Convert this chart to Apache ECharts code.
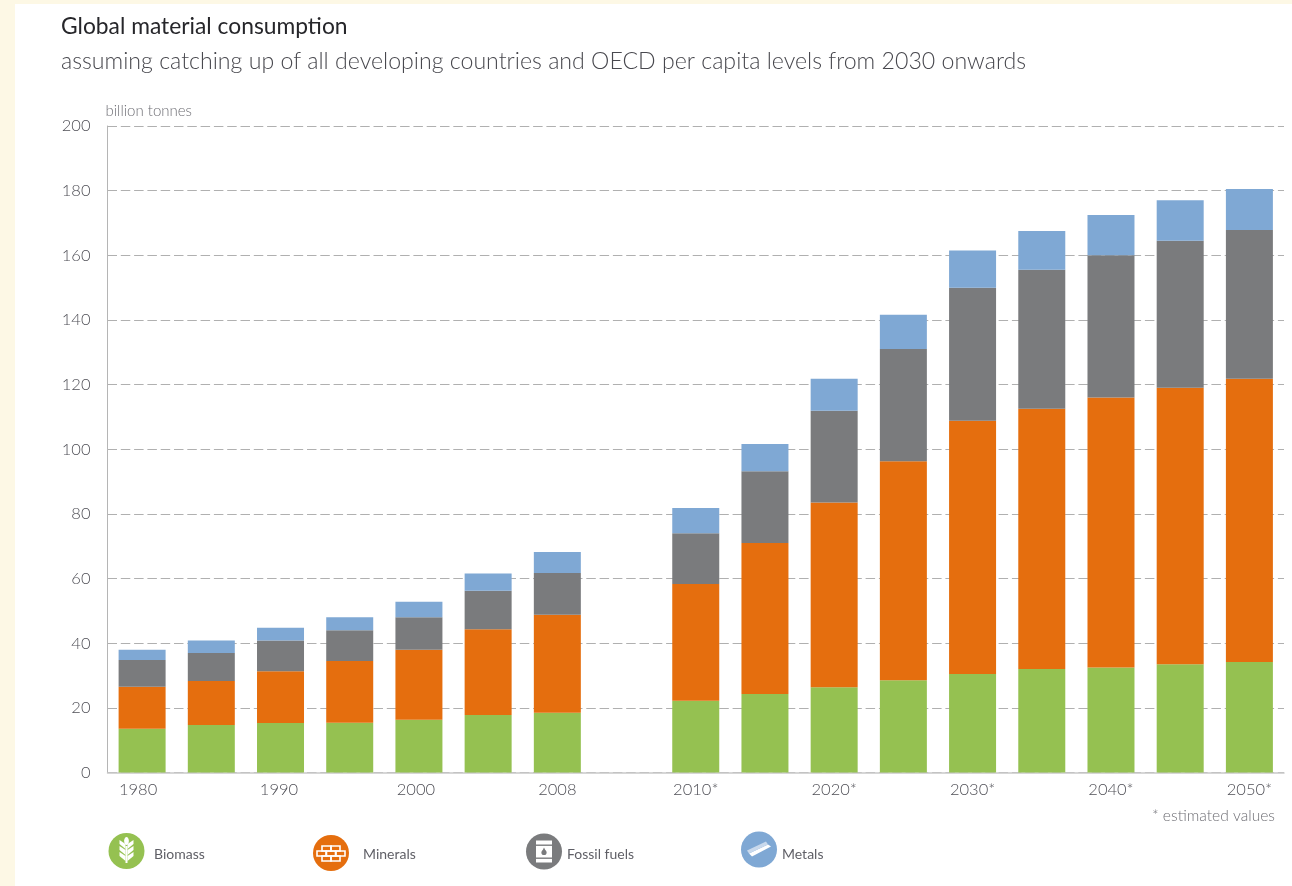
<!DOCTYPE html>
<html>
<head>
<meta charset="utf-8">
<style>
  html, body { margin: 0; padding: 0; background: #fdf8e5; overflow: hidden; }
  #panel { position: absolute; left: 15px; top: 4px; right: 0; bottom: 0; background: #fff; }
  #chart { position: absolute; left: 0; top: 0; width: 1292px; height: 886px; }
</style>
<script src="https://cdn.jsdelivr.net/npm/echarts@6/dist/echarts.min.js"></script>
</head>
<body>
<div id="panel"></div>
<div id="chart"></div>
<script>
// Reporting years; the empty slot separates observed values from estimates.
const years = ['1980','1985','1990','1995','2000','2005','2008','',
  '2010*','2015*','2020*','2025*','2030*','2035*','2040*','2045*','2050*'];
const labelledYears = ['1980','1990','2000','2008','2010*','2020*','2030*','2040*','2050*'];

// Consumption per material, billion tonnes.
const biomass  = [13.5,14.7,15.3,15.4,16.3,17.8,18.5,null,22.2,24.3,26.4,28.5,30.5,32.0,32.5,33.5,34.2];
const minerals = [13.0,13.6,16.0,19.1,21.7,26.5,30.3,null,36.1,46.7,57.1,67.8,78.3,80.5,83.5,85.5,87.6];
const fossil   = [ 8.3, 8.7, 9.5, 9.5,10.0,11.9,12.9,null,15.7,22.2,28.4,34.7,41.2,43.0,44.0,45.5,46.0];
const metals   = [ 3.2, 3.8, 4.0, 4.0, 4.8, 5.4, 6.5,null, 7.8, 8.4, 9.9,10.6,11.5,12.0,12.5,12.5,12.7];

const FONT = 'Lato, "Noto Sans", sans-serif';
const COLORS = { Biomass: '#95c151', Minerals: '#e56e0e', 'Fossil fuels': '#7a7b7d', Metals: '#7fa8d4' };

function barSeries(name, values) {
  return {
    name, type: 'bar', stack: 'total', data: values, barWidth: 47,
    itemStyle: { color: COLORS[name] }, silent: true, animation: false
  };
}

// One legend per material so each caption can sit at its own position.
// The captions share a line; the round badges are drawn separately below.
function legendEntry(name, left, gap) {
  return {
    data: [name], left, top: 836, padding: 0, orient: 'horizontal', selectedMode: false,
    icon: 'circle', itemWidth: 36, itemHeight: 36,
    itemStyle: { color: 'rgba(0,0,0,0)' },
    textStyle: { fontFamily: FONT, fontSize: 14, color: '#5f5f66', padding: [0, 0, 0, gap] }
  };
}

const white = { fill: '#fff' };
const GLYPH_Z = 200;

function badge(name, cx, cy) {
  return { type: 'circle', shape: { cx, cy, r: 18 }, style: { fill: COLORS[name] } };
}

// Wheat ear on the biomass badge.
function wheatGlyph(cx, cy) {
  const parts = [
    { type: 'rect', shape: { x: cx - 1, y: cy - 4, width: 2, height: 17 }, style: white },
    { type: 'ellipse', shape: { cx, cy: cy - 9, rx: 2.4, ry: 4 }, style: white }
  ];
  [-7, -1, 5].forEach(dy => {
    const y = cy + dy;
    parts.push({ type: 'polygon', shape: { points: [[cx - 1, y + 6], [cx - 7, y + 1], [cx - 7, y - 3], [cx - 1, y + 1]] }, style: white });
    parts.push({ type: 'polygon', shape: { points: [[cx + 1, y + 6], [cx + 7, y + 1], [cx + 7, y - 3], [cx + 1, y + 1]] }, style: white });
  });
  return parts;
}

// Staggered courses of bricks on the minerals badge.
function brickGlyph(cx, cy) {
  const line = { fill: 'none', stroke: '#fff', lineWidth: 1.6 };
  const bricks = [[-9,-7],[0,-7],[-14,-2],[-4.5,-2],[5,-2],[-9,3],[0,3]];
  return bricks.map(([dx, dy]) => ({
    type: 'rect', shape: { x: cx + dx, y: cy + dy, width: 9, height: 5 }, style: line
  }));
}

// Oil barrel with a drop on the fossil fuels badge.
function barrelGlyph(cx, cy) {
  const grey = { fill: COLORS['Fossil fuels'] };
  return [
    { type: 'rect', shape: { x: cx - 8, y: cy - 11, width: 16, height: 22 }, style: white },
    { type: 'rect', shape: { x: cx - 8, y: cy - 7, width: 16, height: 1.4 }, style: grey },
    { type: 'rect', shape: { x: cx - 8, y: cy + 6, width: 16, height: 1.4 }, style: grey },
    { type: 'circle', shape: { cx, cy: cy + 1, r: 2.6 }, style: grey },
    { type: 'polygon', shape: { points: [[cx - 2, cy], [cx + 2, cy], [cx, cy - 4]] }, style: grey }
  ];
}

// Metal ingot on the metals badge.
function ingotGlyph(cx, cy) {
  return [
    { type: 'polygon', shape: { points: [[cx - 10, cy + 4], [cx + 9, cy - 5], [cx + 12, cy - 3], [cx - 7, cy + 7]] }, style: white },
    { type: 'polygon', shape: { points: [[cx - 12, cy + 1], [cx + 7, cy - 8], [cx + 9, cy - 5], [cx - 10, cy + 4]] }, style: { fill: '#c9d9ec' } }
  ];
}

// The first decade labels sit a little left of their bars.
const labelNudge = { '1980': 8, '1990': 3, '2000': 6 };
const xAxisData = years.map(y => labelNudge[y]
  ? { value: y, textStyle: { padding: [0, labelNudge[y], 0, 0] } }
  : y);

const badges = [
  badge('Biomass', 126.5, 851),
  badge('Minerals', 331, 853),
  badge('Fossil fuels', 544, 851.5),
  badge('Metals', 759, 849.5)
].map(part => ({ ...part, z: GLYPH_Z - 1, silent: true }));

const glyphs = [
  ...wheatGlyph(126.5, 850),
  ...brickGlyph(331, 853),
  ...barrelGlyph(544, 851.5),
  ...ingotGlyph(759, 849.5)
].map(part => ({ ...part, z: GLYPH_Z, silent: true }));

const chart = echarts.init(document.getElementById('chart'), null, { renderer: 'canvas' });
chart.setOption({
  animation: false,
  backgroundColor: 'transparent',
  title: [
    { text: 'Global material consumption', left: 61, top: 15, padding: 0,
      textStyle: { fontFamily: FONT, fontSize: 22.8, fontWeight: 400, color: '#26262a' } },
    { text: 'assuming catching up of all developing countries and OECD per capita levels from 2030 onwards', left: 61, top: 50, padding: 0,
      textStyle: { fontFamily: FONT, fontSize: 23.15, fontWeight: 300, color: '#48484e' } }
  ],
  legend: [
    legendEntry('Biomass', 108, 5),
    legendEntry('Minerals', 313, 9),
    legendEntry('Fossil fuels', 526, 0),
    legendEntry('Metals', 741, 0)
  ],
  grid: { left: 107.5, top: 126, width: 1176.5, height: 646.5, containLabel: false },
  xAxis: {
    type: 'category', data: xAxisData, boundaryGap: true,
    axisLine: { show: true, lineStyle: { color: '#c9c9c9', width: 1.5 } },
    axisTick: { show: false },
    splitLine: { show: false },
    axisLabel: {
      interval: (i, name) => labelledYears.includes(name),
      hideOverlap: false, margin: 9,
      fontFamily: FONT, fontSize: 16.5, fontWeight: 300, color: '#4f4f56'
    }
  },
  yAxis: {
    type: 'value', min: 0, max: 200, interval: 20,
    name: 'billion tonnes', nameLocation: 'end', nameGap: 7,
    nameTextStyle: { fontFamily: FONT, fontSize: 15, fontWeight: 300, color: '#6f6f75', align: 'left', padding: [0, 0, 0, -2] },
    axisLine: { show: true, lineStyle: { color: '#b5b5b5', width: 1 } },
    axisTick: { show: false },
    axisLabel: { margin: 17, fontFamily: FONT, fontSize: 16.5, fontWeight: 300, color: '#4f4f56' },
    splitLine: { show: true, lineStyle: { color: '#b0b0b0', width: 1, type: [9.5, 3.8] } }
  },
  series: [
    barSeries('Biomass', biomass),
    barSeries('Minerals', minerals),
    barSeries('Fossil fuels', fossil),
    barSeries('Metals', metals)
  ],
  graphic: [
    { type: 'text', right: 17, top: 808, silent: true,
      style: { text: '* estimated values', fontFamily: FONT, fontSize: 15.6, fontWeight: 300, fill: '#6f6f75' } },
    ...badges,
    ...glyphs
  ]
});
</script>
</body>
</html>
